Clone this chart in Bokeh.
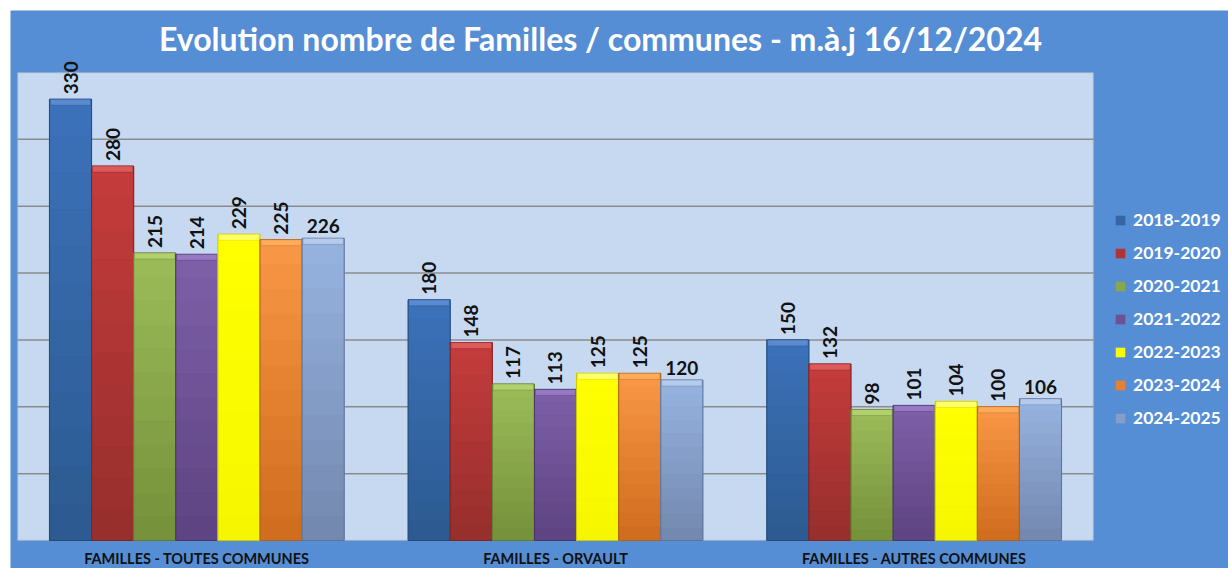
import numpy as np
from bokeh.plotting import figure
from bokeh.models import (ColumnDataSource, LabelSet, Label, Legend, LegendItem,
                          Range1d, BoxAnnotation)
from bokeh.core.properties import value
from bokeh.embed import file_html
from bokeh.resources import INLINE

# ---------------- data ----------------
categories = ["FAMILLES - TOUTES COMMUNES", "FAMILLES - ORVAULT", "FAMILLES - AUTRES COMMUNES"]
seasons = ["2018-2019", "2019-2020", "2020-2021", "2021-2022", "2022-2023", "2023-2024", "2024-2025"]
v2018_2019 = [330, 180, 150]
v2019_2020 = [280, 148, 132]
v2020_2021 = [215, 117, 98]
v2021_2022 = [214, 113, 101]
v2022_2023 = [229, 125, 104]
v2023_2024 = [225, 125, 100]
v2024_2025 = [226, 120, 106]
series = [v2018_2019, v2019_2020, v2020_2021, v2021_2022, v2022_2023, v2023_2024, v2024_2025]
y_max = 350
y_step = 50
title_text = "Evolution nombre de Familles / communes - m.à.j 16/12/2024"

# ---------------- styles ----------------
tops = ["#3c72bb", "#c53c3b", "#9cbc59", "#7e60a9", "#ffff00", "#f99846", "#96b4e1"]
bots = ["#2c5a8f", "#952e2c", "#74903a", "#5d4380", "#f6f600", "#cf6b1d", "#7387ae"]
mids = ["#3466a5", "#ae3534", "#88a64a", "#6d5195", "#fcfc00", "#e58232", "#849ec8"]
edges = ["#244a7a", "#7d2424", "#5f7a2c", "#4a3568", "#c8c800", "#b0621a", "#5e7398"]
caps = ["#5a8ad0", "#dc5a5a", "#b2d06e", "#9678c4", "#ffff66", "#ffab5c", "#b4cbee"]
bar_w = 0.1174
FONT = "Lato"
ncat = len(categories)
nslices = 12

def mix(c1, c2, t):
    a = [int(c1[i:i + 2], 16) for i in (1, 3, 5)]
    b = [int(c2[i:i + 2], 16) for i in (1, 3, 5)]
    return "#%02x%02x%02x" % tuple(round(a[j] + (b[j] - a[j]) * t) for j in range(3))

# plot area: 1076 px wide for ncat units, 468 px high for y_max units
px_x = 1076 / ncat
px_y = 468 / y_max
x0 = -7 / px_x
x1 = ncat + 135 / px_x
y0 = -28 / px_y
y1 = y_max + 62 / px_y

p = figure(width=1218, height=558, output_backend="svg", toolbar_location=None,
           x_range=Range1d(x0, x1), y_range=Range1d(y0, y1),
           min_border_left=0, min_border_right=0, min_border_top=0, min_border_bottom=0)
p.margin = (10, 0, 0, 10)
p.border_fill_color = "#558ed5"
p.background_fill_color = "#558ed5"
p.outline_line_color = None
p.xaxis.visible = False
p.yaxis.visible = False
p.xgrid.visible = False
p.ygrid.visible = False

# plot area panel
p.add_layout(BoxAnnotation(left=0, right=ncat, bottom=0, top=y_max,
                           fill_color="#c6d9f1", fill_alpha=1,
                           line_color="#9a9a9a", line_width=1.5, level="underlay"))

# horizontal grid lines
gy = list(range(y_step, y_max, y_step))
p.segment(x0=[0] * len(gy), x1=[ncat] * len(gy), y0=gy, y1=gy,
          line_color="#8c8c8c", line_width=1.5)

items = []
rot_x, rot_y, rot_t = [], [], []
hor_x, hor_y, hor_t = [], [], []
for i, (s, vals) in enumerate(zip(seasons, series)):
    off = (i - 3) * bar_w
    xs = [k + 0.5 + off for k in range(ncat)]
    src = ColumnDataSource(dict(x=xs, top=vals, capb=[v - 4.5 for v in vals]))
    r = p.vbar(x="x", top="top", bottom=0, width=bar_w, source=src,
               fill_color=mids[i], line_color=None)
    # vertical gradient
    sx, sb, st, sc = [], [], [], []
    for x, v in zip(xs, vals):
        for j in range(nslices):
            sx.append(x)
            sb.append(v * j / nslices)
            st.append(v * (j + 1) / nslices)
            sc.append(mix(bots[i], tops[i], (j + 0.5) / nslices))
    p.vbar(x=sx, bottom=sb, top=st, width=bar_w, fill_color=sc, line_color=sc, line_width=0.5)
    # edge + top bevel
    p.vbar(x="x", top="top", bottom=0, width=bar_w, source=src,
           fill_color=None, line_color=edges[i], line_width=1)
    p.vbar(x="x", top="top", bottom="capb", width=bar_w * 0.96, source=src,
           fill_color=caps[i], line_color=edges[i], line_width=0.6, line_alpha=0.6)
    items.append(LegendItem(label=s, renderers=[r]))
    for x, v in zip(xs, vals):
        if i < len(seasons) - 1:
            rot_x.append(x); rot_y.append(v); rot_t.append(str(v))
        else:
            hor_x.append(x); hor_y.append(v); hor_t.append(str(v))

rot = LabelSet(x="x", y="y", text="t", source=ColumnDataSource(dict(x=rot_x, y=rot_y, t=rot_t)),
               angle=90, angle_units="deg", text_align="left", text_baseline="middle",
               y_offset=5, text_font=value(FONT), text_font_style="bold", text_font_size="19px",
               text_color="#111111")
hor = LabelSet(x="x", y="y", text="t", source=ColumnDataSource(dict(x=hor_x, y=hor_y, t=hor_t)),
               text_align="center", text_baseline="bottom", y_offset=5,
               text_font=value(FONT), text_font_style="bold", text_font_size="19px",
               text_color="#111111")
p.add_layout(rot)
p.add_layout(hor)

# category labels
cat = LabelSet(x="x", y="y", text="t",
               source=ColumnDataSource(dict(x=[k + 0.5 for k in range(ncat)],
                                            y=[0] * ncat, t=categories)),
               text_align="center", text_baseline="top", y_offset=-9,
               text_font=value(FONT), text_font_style="bold", text_font_size="14.5px",
               text_color="#111111")
p.add_layout(cat)

p.add_layout(Label(x=583 / px_x, y=502 / px_y, text=title_text, text_align="center",
                   text_baseline="middle", text_font=FONT, text_font_style="bold",
                   text_font_size="32px", text_color="white"))

legend = Legend(items=items, location=(1104, 140))
legend.background_fill_alpha = 0
legend.border_line_color = None
legend.label_text_font = FONT
legend.label_text_font_style = "bold"
legend.label_text_font_size = "17.5px"
legend.label_text_color = "white"
legend.glyph_width = 12
legend.glyph_height = 12
legend.label_height = 20
legend.label_standoff = 7
legend.spacing = 12
legend.margin = 0
legend.padding = 8
p.add_layout(legend)

open("out.html", "w").write(file_html(p, INLINE))
